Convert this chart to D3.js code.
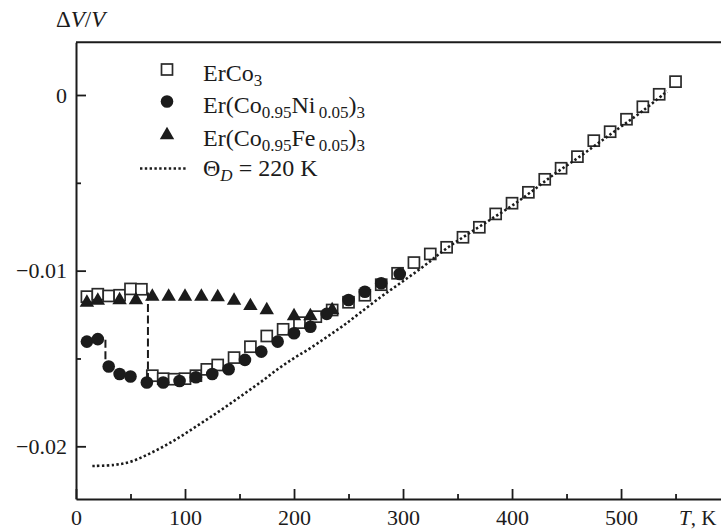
<!DOCTYPE html>
<html><head><meta charset="utf-8">
<script src="https://cdn.jsdelivr.net/npm/d3@7"></script>
<style>
html,body{margin:0;padding:0;background:#fff;}
svg{display:block;font-family:"Liberation Serif","Times New Roman",serif;}
</style></head>
<body>
<svg id="chart" width="721" height="531"></svg>
<script>
// ---- data ----
const sqT = [10,20,30,40,50,60,70,80,90,100,110,120,130,145,160,175,190,205,220,235,250,265,280,295,310,325,340,355,370,385,400,415,430,445,460,475,490,505,520,535,550];
const sqV = [-0.01148,-0.01134,-0.01144,-0.0114,-0.01104,-0.01106,-0.01598,-0.01615,-0.01618,-0.01615,-0.01598,-0.01562,-0.01537,-0.01495,-0.01433,-0.01372,-0.01334,-0.01296,-0.01262,-0.01224,-0.0118,-0.0114,-0.0108,-0.01015,-0.00954,-0.00905,-0.00867,-0.0081,-0.00753,-0.00677,-0.00616,-0.00554,-0.0048,-0.00417,-0.00351,-0.0026,-0.00209,-0.00138,-0.00067,0.00004,0.00076];
const niT = [10,20,30,40,50,65,80,95,110,125,140,155,170,185,200,215,230,250,265,280,297];
const niV = [-0.01404,-0.0139,-0.01546,-0.01588,-0.01603,-0.01637,-0.01637,-0.01628,-0.01607,-0.01588,-0.01561,-0.01508,-0.01461,-0.01404,-0.01356,-0.01319,-0.01246,-0.01167,-0.0112,-0.01072,-0.01019];
const feT = [10,20,40,55,70,85,100,115,130,145,160,175,200,215,235];
const feV = [-0.01182,-0.01171,-0.01167,-0.01167,-0.01148,-0.01148,-0.01148,-0.01148,-0.01151,-0.01171,-0.01201,-0.01224,-0.01258,-0.01258,-0.01224];
const debT = [15,35,50,65,80,95,110,125,140,155,170,185,200,215,230,245,260,280,300,320,340,360,380,400,420,440,460,480,500,520,542];
const debV = [-0.02112,-0.02106,-0.02088,-0.02049,-0.02002,-0.01948,-0.01888,-0.01827,-0.01764,-0.01698,-0.01632,-0.01561,-0.01498,-0.01441,-0.01378,-0.01314,-0.01243,-0.01148,-0.0106,-0.0097,-0.00873,-0.0079,-0.0071,-0.0063,-0.0054,-0.00445,-0.0036,-0.0027,-0.0018,-0.0009,0.0002];
// dashed jumps: [T, V from, V to]
const stepSq = [66, -0.01125, -0.01605];
const stepNi = [27, -0.01393, -0.01530];
const xTicks = [0,100,200,300,400,500];
const xMinor = [50,150,250,350,450,550];
const yTicks = [0,-0.01,-0.02];
const yMinor = [-0.005,-0.015];

// ---- setup ----
const svg = d3.select("#chart");
const ink = "#1b1b1b";
const x = d3.scaleLinear().domain([0, 591.7]).range([76, 721]);
const y = d3.scaleLinear().domain([-0.023, 0.003]).range([499, 42.3]);

// top border
svg.append("line").attr("x1",76).attr("x2",721).attr("y1",y(0.003)).attr("y2",y(0.003))
  .attr("stroke",ink).attr("stroke-width",2);

// x axis
const fmtX = d3.format("d");
const gx = svg.append("g").attr("transform","translate(0,499)")
  .call(d3.axisBottom(x).tickValues(xTicks).tickSizeInner(-10).tickSizeOuter(0).tickPadding(12).tickFormat(fmtX));
svg.append("g").attr("transform","translate(0,499)")
  .call(d3.axisBottom(x).tickValues(xMinor).tickSizeInner(-5).tickSizeOuter(0).tickFormat(""))
  .call(g=>g.select(".domain").remove());
// y axis
const fmtY = v => v===0 ? "0" : "\u2212" + d3.format(".2f")(-v);
const gy = svg.append("g").attr("transform","translate(76,0)")
  .call(d3.axisLeft(y).tickValues(yTicks).tickSizeInner(-10).tickSizeOuter(0).tickPadding(9).tickFormat(fmtY));
svg.append("g").attr("transform","translate(76,0)")
  .call(d3.axisLeft(y).tickValues(yMinor).tickSizeInner(-5).tickSizeOuter(0).tickFormat(""))
  .call(g=>g.select(".domain").remove());
svg.selectAll(".domain").attr("stroke",ink).attr("stroke-width",2);
svg.selectAll(".tick line").attr("stroke",ink).attr("stroke-width",1.8);
svg.selectAll(".tick text").attr("font-family","Liberation Serif").attr("font-size",22).attr("fill",ink);
gx.selectAll(".tick text").attr("dy","0.62em");

// axis titles
const yt = svg.append("text").attr("x",56).attr("y",27).attr("font-size",23).attr("fill",ink);
yt.append("tspan").text("\u0394");
yt.append("tspan").attr("font-style","italic").text("V");
yt.append("tspan").text("/");
yt.append("tspan").attr("font-style","italic").text("V");
const xt = svg.append("text").attr("x",679).attr("y",525).attr("font-size",21).attr("fill",ink);
xt.append("tspan").attr("font-style","italic").text("T");
xt.append("tspan").text(", K");

// ---- marks ----
const sqS = 11;
const sqData = sqT.map((t,i)=>({t, v:sqV[i]}));
svg.append("g").selectAll("rect").data(sqData).join("rect")
  .attr("x",d=>x(d.t)-sqS/2).attr("y",d=>y(d.v)-sqS/2).attr("width",sqS).attr("height",sqS)
  .attr("fill","#fff").attr("stroke","#2a2a2a").attr("stroke-width",1.7);

// debye dotted line
const debData = debT.map((t,i)=>({t, v:debV[i]}));
svg.append("path").datum(debData)
  .attr("d", d3.line().x(d=>x(d.t)).y(d=>y(d.v)).curve(d3.curveCatmullRom))
  .attr("fill","none").attr("stroke",ink).attr("stroke-width",2.6).attr("stroke-dasharray","2.4 2.4");

// dashed steps
[stepSq, stepNi].forEach(s=>{
  svg.append("line").attr("x1",x(s[0])).attr("x2",x(s[0])).attr("y1",y(s[1])).attr("y2",y(s[2]))
    .attr("stroke",ink).attr("stroke-width",2).attr("stroke-dasharray","8 3.5");
});

// triangles
const tri = d3.symbol().type(d3.symbolTriangle).size(90);
const feData = feT.map((t,i)=>({t, v:feV[i]}));
svg.append("g").selectAll("path").data(feData).join("path")
  .attr("d",tri).attr("transform",d=>`translate(${x(d.t)},${y(d.v)})`).attr("fill",ink);

// circles
const niData = niT.map((t,i)=>({t, v:niV[i]}));
svg.append("g").selectAll("circle").data(niData).join("circle")
  .attr("cx",d=>x(d.t)).attr("cy",d=>y(d.v)).attr("r",6.3).attr("fill",ink);

// ---- legend ----
const lg = svg.append("g").attr("font-size",24).attr("fill",ink);
const lx = 167, tx = 203;
lg.append("rect").attr("x",lx-sqS/2).attr("y",69.5-sqS/2).attr("width",sqS).attr("height",sqS)
  .attr("fill","#fff").attr("stroke","#2a2a2a").attr("stroke-width",1.7);
lg.append("circle").attr("cx",lx).attr("cy",101.5).attr("r",6.3).attr("fill",ink);
lg.append("path").attr("d",tri).attr("transform",`translate(${lx},135)`).attr("fill",ink);
lg.append("line").attr("x1",140).attr("x2",188).attr("y1",168.5).attr("y2",168.5)
  .attr("stroke",ink).attr("stroke-width",2.6).attr("stroke-dasharray","2.4 2.4");

function addText(yb, parts){
  const t = lg.append("text").attr("x",tx).attr("y",yb);
  let sub = false;
  parts.forEach(p=>{
    const s = t.append("tspan").text(p.s);
    if (p.sub && !sub){ s.attr("dy",5).attr("font-size",17); sub = true; }
    else if (p.sub && sub){ s.attr("font-size",17); }
    else if (!p.sub && sub){ s.attr("dy",-5); sub = false; }
    if (p.it) s.attr("font-style","italic");
  });
}
addText(81, [{s:"ErCo"},{s:"3",sub:true}]);
addText(113, [{s:"Er(Co"},{s:"0.95",sub:true},{s:"Ni"},{s:"\u20090.05",sub:true},{s:")"},{s:"3",sub:true}]);
addText(146, [{s:"Er(Co"},{s:"0.95",sub:true},{s:"Fe"},{s:"\u20090.05",sub:true},{s:")"},{s:"3",sub:true}]);
addText(176, [{s:"\u0398"},{s:"D",sub:true,it:true},{s:" = 220 K"}]);
</script>
</body></html>
